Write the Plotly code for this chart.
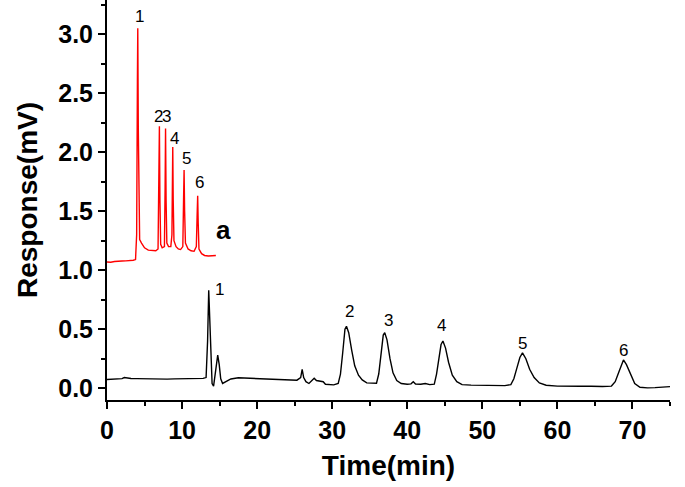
import plotly.graph_objects as go

# Chromatogram b (black)
b_time = [0.0, 0.5, 1.0, 1.5, 2.0, 2.3, 2.7, 3.2, 4.0, 5.0, 6.0, 7.0, 8.0, 9.0, 10.0, 11.0, 12.0, 12.8,
          13.2, 13.4, 13.55, 13.7, 13.85, 14.0, 14.2, 14.45, 14.75, 14.95, 15.15, 15.4, 15.8, 16.5, 17.5,
          18.5, 19.5, 20.5, 21.5, 22.5, 23.5, 24.5, 25.3, 25.8, 26.0, 26.2, 26.5, 26.9, 27.3, 27.6, 27.9,
          28.4, 28.8, 29.1, 29.6, 30.2, 30.8, 31.1, 31.4, 31.7, 31.9, 32.2, 32.6, 33.0, 33.5, 34.0, 34.6,
          35.3, 35.9, 36.2, 36.5, 36.8, 37.0, 37.3, 37.7, 38.1, 38.6, 39.2, 40.0, 40.5, 40.8, 41.1, 41.8,
          42.4, 43.0, 43.6, 43.9, 44.2, 44.5, 44.75, 45.1, 45.5, 46.0, 46.6, 47.3, 48.5, 50.0, 51.5, 53.0,
          53.8, 54.2, 54.6, 55.0, 55.35, 55.8, 56.3, 56.9, 57.6, 58.5, 60.0, 61.5, 63.0, 64.5, 66.0, 67.2,
          67.7, 68.2, 68.55, 68.8, 69.2, 69.7, 70.3, 71.0, 72.0, 73.0, 74.0, 75.0]
b_resp = [0.074, 0.077, 0.075, 0.079, 0.081, 0.090, 0.086, 0.082, 0.081, 0.079, 0.078, 0.080, 0.077, 0.079, 0.081, 0.079, 0.082, 0.083,
          0.090, 0.40, 0.83, 0.55, 0.15, 0.04, 0.017, 0.12, 0.28, 0.20, 0.08, 0.04, 0.055, 0.078, 0.088,
          0.086, 0.082, 0.079, 0.077, 0.078, 0.074, 0.071, 0.068, 0.09, 0.16, 0.09, 0.055, 0.04, 0.065, 0.085, 0.065,
          0.062, 0.055, 0.033, 0.028, 0.028, 0.04, 0.12, 0.30, 0.50, 0.525, 0.47, 0.32, 0.19, 0.11, 0.07, 0.045,
          0.04, 0.042, 0.12, 0.30, 0.45, 0.47, 0.41, 0.25, 0.13, 0.065, 0.04, 0.033, 0.037, 0.055, 0.035, 0.033,
          0.04, 0.03, 0.035, 0.12, 0.26, 0.37, 0.40, 0.34, 0.22, 0.11, 0.055, 0.03, 0.026, 0.024, 0.026, 0.022,
          0.03, 0.08, 0.17, 0.26, 0.30, 0.25, 0.16, 0.09, 0.045, 0.025, 0.018, 0.02, 0.016, 0.017, 0.014, 0.018,
          0.055, 0.14, 0.21, 0.24, 0.20, 0.12, 0.04, 0.008, 0.003, 0.005, 0.008, 0.013]

# Chromatogram a (red)
a_time = [0.0, 0.5, 1.0, 1.5, 2.0, 2.5, 3.0, 3.5, 3.8, 3.95, 4.05, 4.1, 4.17, 4.25, 4.35, 4.6, 5.0, 5.5,
          6.0, 6.5, 6.8, 6.92, 6.98, 7.05, 7.15, 7.35, 7.65, 7.74, 7.8, 7.87, 7.97, 8.2, 8.5, 8.65, 8.72,
          8.76, 8.82, 8.92, 9.2, 9.5, 9.8, 10.1, 10.2, 10.27, 10.34, 10.45, 10.8, 11.2, 11.6, 11.9, 12.0,
          12.08, 12.15, 12.25, 12.6, 13.0, 13.5, 14.0, 14.5]
a_resp = [1.07, 1.068, 1.074, 1.073, 1.078, 1.079, 1.08, 1.084, 1.09, 1.3, 2.6, 3.05, 2.2, 1.4, 1.26, 1.23, 1.19, 1.17,
          1.17, 1.165, 1.18, 1.8, 2.22, 1.6, 1.22, 1.19, 1.2, 1.7, 2.2, 1.6, 1.23, 1.2, 1.2, 1.3, 1.8,
          2.045, 1.6, 1.25, 1.2, 1.18, 1.175, 1.2, 1.6, 1.85, 1.5, 1.23, 1.18, 1.165, 1.16, 1.2, 1.45,
          1.63, 1.4, 1.18, 1.14, 1.125, 1.12, 1.12, 1.125]

# Peak labels
a_lab_text = ["1", "2", "3", "4", "5", "6"]
a_lab_x = [4.3, 6.9, 7.9, 9.0, 10.6, 12.3]
a_lab_y = [3.15, 2.30, 2.30, 2.12, 1.95, 1.74]
b_lab_text = ["1", "2", "3", "4", "5", "6"]
b_lab_x = [15.05, 32.3, 37.5, 44.6, 55.4, 68.8]
b_lab_y = [0.84, 0.65, 0.57, 0.53, 0.38, 0.32]

font_fam = "Liberation Sans, Arial, sans-serif"

fig = go.Figure()
fig.add_trace(go.Scatter(x=b_time, y=b_resp, mode="lines",
                         line=dict(color="black", width=1.4), showlegend=False))
fig.add_trace(go.Scatter(x=a_time, y=a_resp, mode="lines",
                         line=dict(color="#ff0000", width=1.4), showlegend=False))

anns = []
for t, x, y in zip(a_lab_text, a_lab_x, a_lab_y):
    anns.append(dict(x=x, y=y, text=t, showarrow=False, font=dict(family=font_fam, size=17, color="black")))
for t, x, y in zip(b_lab_text, b_lab_x, b_lab_y):
    anns.append(dict(x=x, y=y, text=t, showarrow=False, font=dict(family=font_fam, size=17, color="black")))
anns.append(dict(x=15.5, y=1.34, text="<b>a</b>", showarrow=False, font=dict(family=font_fam, size=26, color="black")))
anns.append(dict(x=76.2, y=0.10, text="<b>b</b>", showarrow=False, font=dict(family=font_fam, size=25, color="black")))

fig.update_layout(
    width=685, height=487,
    margin=dict(l=107, r=15, t=0, b=87),
    plot_bgcolor="white", paper_bgcolor="white",
    annotations=anns,
    xaxis=dict(range=[0, 75], tickvals=[0, 10, 20, 30, 40, 50, 60, 70], automargin=False,
               ticks="outside", ticklen=7, tickwidth=1.5, tickcolor="black",
               minor=dict(dtick=5, ticks="outside", ticklen=4, tickwidth=1.5, tickcolor="black", showgrid=False),
               showline=True, linecolor="black", linewidth=2, showgrid=False, zeroline=False,
               tickfont=dict(family=font_fam, size=25, color="black", weight="bold"),
               title=dict(text="Time(min)", font=dict(family=font_fam, size=28, color="black", weight="bold"), standoff=12)),
    yaxis=dict(range=[-0.10, 3.29], tickvals=[0, 0.5, 1.0, 1.5, 2.0, 2.5, 3.0], tickformat=".1f", automargin=False,
               ticks="outside", ticklen=7, tickwidth=1.5, tickcolor="black",
               minor=dict(dtick=0.25, tick0=0, ticks="outside", ticklen=4, tickwidth=1.5, tickcolor="black", showgrid=False),
               showline=True, linecolor="black", linewidth=2, showgrid=False, zeroline=False,
               tickfont=dict(family=font_fam, size=25, color="black", weight="bold"),
               title=dict(text="Response(mV)", font=dict(family=font_fam, size=28, color="black", weight="bold"), standoff=12)),
)

fig.write_html("out.html", config={"displayModeBar": False},
               post_script="document.body.style.margin='0px'; document.body.style.overflow='hidden';")
